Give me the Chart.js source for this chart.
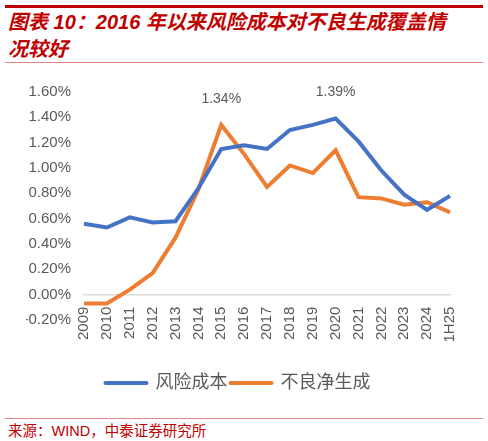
<!DOCTYPE html>
<html lang="zh">
<head>
  <meta charset="UTF-8" />
  <title>风险成本与不良净生成</title>
  <style>
    body { margin:0; width:488px; height:441px; background:#fff; position:relative; overflow:hidden;
           font-family:"Liberation Sans", "Noto Sans CJK SC", sans-serif; }
    .bar-top { position:absolute; left:5px; top:5px; width:478px; height:2.5px; background:#c00000; }
    .bar-title { position:absolute; left:5px; top:61.5px; width:478px; height:1.5px; background:#e08585; }
    .bar-src { position:absolute; left:5px; top:417.5px; width:478px; height:1px; background:#e08585; }
    #title { position:absolute; left:8px; top:9px; margin:0; color:#c00000;
             font:italic bold 20px "Liberation Sans", "Noto Sans CJK SC", sans-serif; line-height:27px; }
    #source { position:absolute; left:8px; top:419px; color:#c00000;
              font:14.5px "Liberation Sans", "Noto Sans CJK SC", sans-serif; }
    #chart-box { position:absolute; left:0; top:64px; width:488px; height:350px; }
  </style>
</head>
<body>
  <div class="bar-top"></div>
  <h1 id="title">图表 10：2016 年以来风险成本对不良生成覆盖情<br>况较好</h1>
  <div class="bar-title"></div>
  <div id="chart-box"><canvas id="chart"></canvas></div>
  <div class="bar-src"></div>
  <div id="source">来源：WIND，中泰证券研究所</div>

  <script src="https://cdn.jsdelivr.net/npm/chart.js"></script>
  <script>
  // data (%)
  const years = ['2009','2010','2011','2012','2013','2014','2015','2016','2017',
                 '2018','2019','2020','2021','2022','2023','2024','1H25'];
  const riskCost = [0.56, 0.53, 0.61, 0.57, 0.58, 0.84, 1.15, 1.18, 1.15,
                    1.30, 1.34, 1.39, 1.21, 0.98, 0.79, 0.67, 0.78];
  const nplFormation = [-0.07, -0.07, 0.04, 0.17, 0.45, 0.83, 1.34, 1.11, 0.85,
                        1.02, 0.96, 1.14, 0.77, 0.76, 0.71, 0.73, 0.65];
  const yTicks = [-0.2, 0, 0.2, 0.4, 0.6, 0.8, 1.0, 1.2, 1.4, 1.6];

  const gray = '#595959';
  const font = '"Liberation Sans", "Noto Sans CJK SC", sans-serif';

  // draws the value above the highest point of each series
  const peakLabels = {
    id: 'peakLabels',
    afterDatasetsDraw(chart) {
      const { ctx } = chart;
      ctx.save();
      ctx.fillStyle = gray;
      ctx.font = '14px ' + font;
      ctx.textAlign = 'center';
      ctx.textBaseline = 'middle';
      chart.data.datasets.forEach((ds, di) => {
        const vals = ds.data;
        const i = vals.indexOf(Math.max(...vals));
        const pt = chart.getDatasetMeta(di).data[i];
        ctx.fillText(vals[i].toFixed(2) + '%', pt.x, pt.y - 26);
      });
      ctx.restore();
    }
  };

  new Chart(document.getElementById('chart'), {
    type: 'line',
    data: {
      labels: years,
      datasets: [
        { label: '风险成本', data: riskCost, borderColor: '#4472c4', backgroundColor: '#4472c4',
          borderWidth: 4, pointRadius: 0, tension: 0 },
        { label: '不良净生成', data: nplFormation, borderColor: '#ed7d31', backgroundColor: '#ed7d31',
          borderWidth: 4, pointRadius: 0, tension: 0 }
      ]
    },
    options: {
      responsive: true,
      maintainAspectRatio: false,
      animation: false,
      layout: { padding: { top: 28, right: 38, bottom: 12, left: 26 } },
      plugins: {
        legend: {
          position: 'bottom',
          labels: {
            color: gray,
            font: { size: 18, family: font },
            usePointStyle: true,
            pointStyleWidth: 41,
            padding: 3,
            generateLabels(chart) {
              return chart.data.datasets.map((ds, i) => ({
                text: ds.label, fillStyle: ds.borderColor, strokeStyle: ds.borderColor,
                lineWidth: 4, lineCap: 'round', pointStyle: 'line', datasetIndex: i,
                fontColor: gray, hidden: false
              }));
            }
          }
        },
        tooltip: { enabled: false }
      },
      scales: {
        // category axis crosses at 0, labels hang below it
        x: {
          position: { y: 0 },
          grid: { display: false, drawTicks: false, tickLength: 0 },
          border: { display: true, color: '#d9d9d9', width: 1.5 },
          ticks: { color: gray, font: { size: 15, family: font }, minRotation: 90, maxRotation: 90,
                   padding: 12, autoSkip: false }
        },
        // empty axis that keeps room for the labels above the legend
        xSpace: {
          type: 'category',
          position: 'bottom',
          grid: { display: false, drawTicks: false },
          border: { display: false },
          ticks: { display: false },
          afterFit(scale) { scale.height = 51; }
        },
        y: {
          min: -0.2, max: 1.6,
          afterBuildTicks(scale) { scale.ticks = yTicks.map(v => ({ value: v })); },
          afterFit(scale) { scale.width = 58; },
          border: { display: false },
          grid: { display: false, drawTicks: false },
          ticks: { color: gray, font: { size: 15, family: font }, padding: 13,
                   callback: v => v.toFixed(2) + '%' }
        }
      }
    },
    plugins: [peakLabels]
  });
  </script>
</body>
</html>
